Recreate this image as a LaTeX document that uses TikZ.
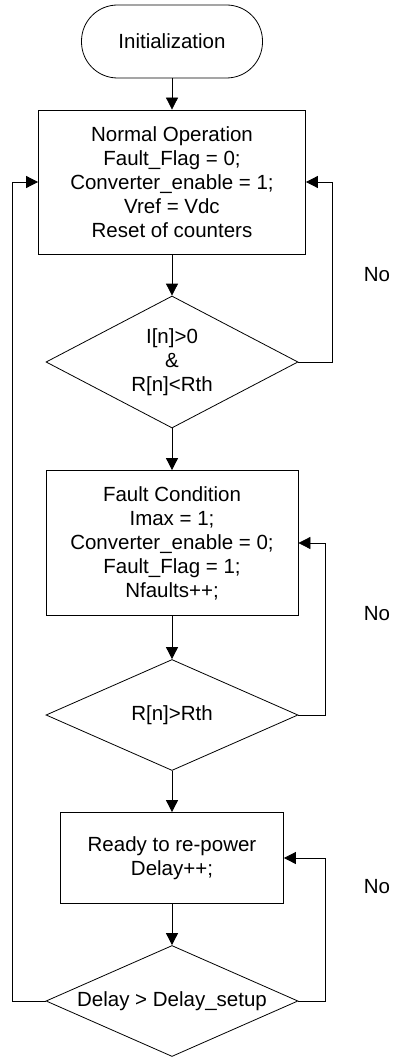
\documentclass[tikz,border=0pt]{standalone}
\usepackage{fontspec}
\setmainfont{Liberation Sans}
\usetikzlibrary{arrows.meta, shapes.geometric}

\begin{document}
\begin{tikzpicture}[x=1pt, y=-1pt, line width=0.8pt,
        font=\fontsize{20.5}{24}\selectfont,
        box/.style={draw, rectangle, align=center, inner sep=0pt},
        cond/.style={draw, diamond, aspect=2.27, align=center, inner sep=0pt, minimum width=252pt},
        flow/.style={-{Triangle[length=12pt, width=12pt]}}]
        % ---------------------------------------------------
        % 전체 크기와 중심축 위치
        % ---------------------------------------------------
        \useasboundingbox (0,0) rectangle (392,1059);
        \def\cx{172}
        \def\nox{377}

        % 시작 및 처리 블록
        \node[box, rounded corners=36pt, minimum width=181pt, minimum height=73pt] (init) at (\cx, 41.5) {Initialization};
        \node[box, minimum width=267pt, minimum height=144pt] (normal) at (\cx, 182) {Normal Operation\\Fault\_Flag = 0;\\Converter\_enable = 1;\\Vref = Vdc\\Reset of counters};
        \node[box, minimum width=252pt, minimum height=145pt] (fault) at (\cx, 543) {Fault Condition\\Imax = 1;\\Converter\_enable = 0;\\Fault\_Flag = 1;\\Nfaults++;};
        \node[box, minimum width=223pt, minimum height=91pt] (ready) at (\cx, 858) {Ready to re-power\\Delay++;};

        % 조건 판단 블록 (마름모)
        \node[cond, minimum height=132pt] (chk1) at (\cx, 362) {I[n]>0\\\&\\R[n]<Rth};
        \node[cond, minimum height=111pt] (chk2) at (\cx, 715) {R[n]>Rth};
        \node[cond, minimum height=111pt] (chk3) at (\cx, 1001) {Delay > Delay\_setup};

        % 아래로 내려가는 주 흐름
        \draw[flow] (init) -- (normal);
        \draw[flow] (normal) -- (chk1);
        \draw[flow] (chk1) -- (fault);
        \draw[flow] (fault) -- (chk2);
        \draw[flow] (chk2) -- (ready);
        \draw[flow] (ready) -- (chk3);

        % 되돌아가는 루프 (No 분기)
        \draw[flow] (chk1.east) -- ++(34,0) |- (normal.east);
        \draw[flow] (chk2.east) -- ++(27,0) |- (fault.east);
        \draw[flow] (chk3.east) -- ++(27,0) |- (ready.east);
        \draw[flow] (chk3.west) -- ++(-33.5,0) |- (normal.west);

        % No 라벨
        \node (no1) at (\nox, 275) {No};
        \node (no2) at (\nox, 614) {No};
        \node (no3) at (\nox, 887) {No};
\end{tikzpicture}
\end{document}
